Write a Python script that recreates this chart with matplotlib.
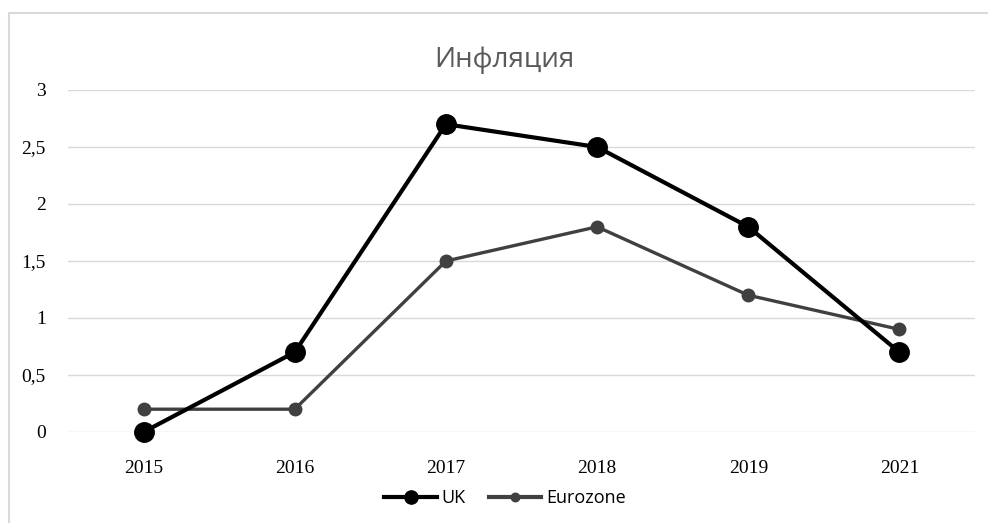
import matplotlib.pyplot as plt
from matplotlib.patches import Rectangle

years = ['2015', '2016', '2017', '2018', '2019', '2021']
uk = [0, 0.7, 2.7, 2.5, 1.8, 0.7]
eurozone = [0.2, 0.2, 1.5, 1.8, 1.2, 0.9]
yticks = [0, 0.5, 1, 1.5, 2, 2.5, 3]
ylabels = ['0', '0,5', '1', '1,5', '2', '2,5', '3']

W, H = 988, 523
fig = plt.figure(figsize=(W / 100, H / 100), dpi=100)

# outer chart frame (cut off at right/bottom like the source)
fig.patches.append(Rectangle((9 / W, -0.1), 1.2, 1 - 13 / H + 0.1,
                             transform=fig.transFigure, fill=False,
                             edgecolor='#d9d9d9', linewidth=1.5))

ax = fig.add_axes([68 / W, 1 - 432 / H, (975 - 68) / W, (432 - 90) / H])
x = range(len(years))

ax.plot(x, uk, color='black', linewidth=3, marker='o', markersize=14,
        label='UK', zorder=3, clip_on=False)
ax.plot(x, eurozone, color='#404040', linewidth=2.4, marker='o', markersize=9,
        label='Eurozone', zorder=2, clip_on=False)

ax.set_xlim(-0.5, len(years) - 0.5)
ax.set_ylim(0, 3)
ax.set_yticks(yticks)
ax.set_yticklabels(ylabels, family='Liberation Serif', fontsize=14)
ax.set_xticks(list(x))
ax.set_xticklabels(years, family='Liberation Serif', fontsize=14)
ax.tick_params(axis='y', length=0, pad=16)
ax.tick_params(axis='x', length=0, pad=20)
ax.grid(axis='y', color='#d9d9d9', linewidth=1)
ax.set_axisbelow(True)
for s in ax.spines.values():
    s.set_visible(False)

fig.text(504 / W, 1 - 60 / H, 'Инфляция', family='Open Sans', fontsize=20,
         color='#595959', ha='center', va='center')

leg = fig.legend(loc='center', bbox_to_anchor=(505 / W, 1 - 498 / H), ncol=2,
                 frameon=False, prop={'family': 'Open Sans', 'size': 13},
                 handlelength=2.9, handletextpad=0.25, columnspacing=1.3,
                 markerscale=0.68)
for line in leg.get_lines():
    line.set_linewidth(3)

fig.savefig('out.png', dpi=100)
